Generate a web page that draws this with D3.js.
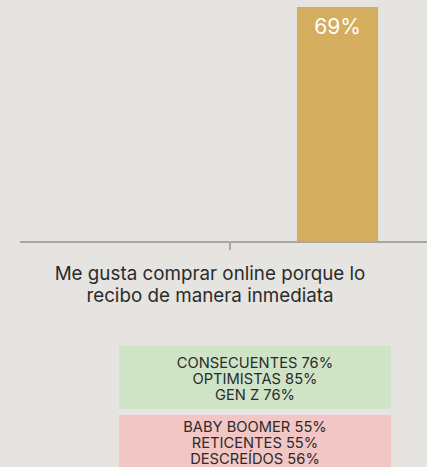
<!DOCTYPE html>
<html><head><meta charset="utf-8">
<script src="https://cdn.jsdelivr.net/npm/d3@7"></script>
<style>
html,body{margin:0;padding:0;background:#e5e4e0;}
svg{display:block;font-family:Inter,"Noto Sans",sans-serif;}
</style></head>
<body>
<svg id="c" width="427" height="467"></svg>
<script>
const categories = ["Me gusta comprar online porque lo recibo de manera inmediata"];
const categoryLines = [["Me gusta comprar online porque lo", "recibo de manera inmediata"]];
const seriesKeys = ["base", "total"];
const seriesValues = [null, 69];
const greenLines = ["CONSECUENTES 76%", "OPTIMISTAS 85%", "GEN Z 76%"];
const redLines = ["BABY BOOMER 55%", "RETICENTES 55%", "DESCREÍDOS 56%"];

const svg = d3.select("#c");
const W = 427, H = 467;
svg.append("rect").attr("width", W).attr("height", H).attr("fill", "#e5e4e0");

const y0 = 242, yTop = 7;
const x = d3.scaleBand().domain(categories).range([20, 440]);
const xi = d3.scaleBand().domain(seriesKeys).range([0, x.bandwidth()]).paddingInner(0.623).paddingOuter(0.288);
const y = d3.scaleLinear().domain([0, 69]).range([y0, yTop]);

const g = svg.append("g");
seriesKeys.forEach((k, i) => {
  const v = seriesValues[i];
  if (v == null) return;
  const bx = x(categories[0]) + xi(k);
  g.append("rect").attr("x", bx).attr("y", y(v)).attr("width", xi.bandwidth()).attr("height", y(0) - y(v)).attr("fill", "#d4ad5f");
  g.append("text").attr("x", bx + xi.bandwidth() / 2).attr("y", y(v) + 27)
    .attr("text-anchor", "middle").attr("fill", "#ffffff").attr("font-size", 21).text(v + "%");
});

const axis = svg.append("g").attr("transform", `translate(0,${y0})`)
  .call(d3.axisBottom(x).tickSize(8).tickFormat(""));
axis.select(".domain").attr("stroke", "#aaa6a1").attr("stroke-width", 2).attr("d", `M20,0H440`);
axis.selectAll(".tick line").attr("stroke", "#aaa6a1").attr("stroke-width", 2);

const lbl = svg.append("text").attr("text-anchor", "middle").attr("fill", "#2b2b2b").attr("font-size", 18.8);
categoryLines[0].forEach((t, i) => {
  lbl.append("tspan").attr("x", x(categories[0]) + x.bandwidth() / 2 - 20).attr("y", 280 + i * 22).text(t);
});

function box(yb, hb, fill, lines, y1) {
  svg.append("rect").attr("x", 119).attr("y", yb).attr("width", 272).attr("height", hb).attr("fill", fill);
  const t = svg.append("text").attr("text-anchor", "middle").attr("fill", "#2b2b2b").attr("font-size", 14.7);
  lines.forEach((s, i) => t.append("tspan").attr("x", 255).attr("y", y1 + i * 16).text(s));
}
box(346, 63, "#cfe4c7", greenLines, 368);
box(415, 60, "#f2c6c4", redLines, 432);
</script>
</body></html>
